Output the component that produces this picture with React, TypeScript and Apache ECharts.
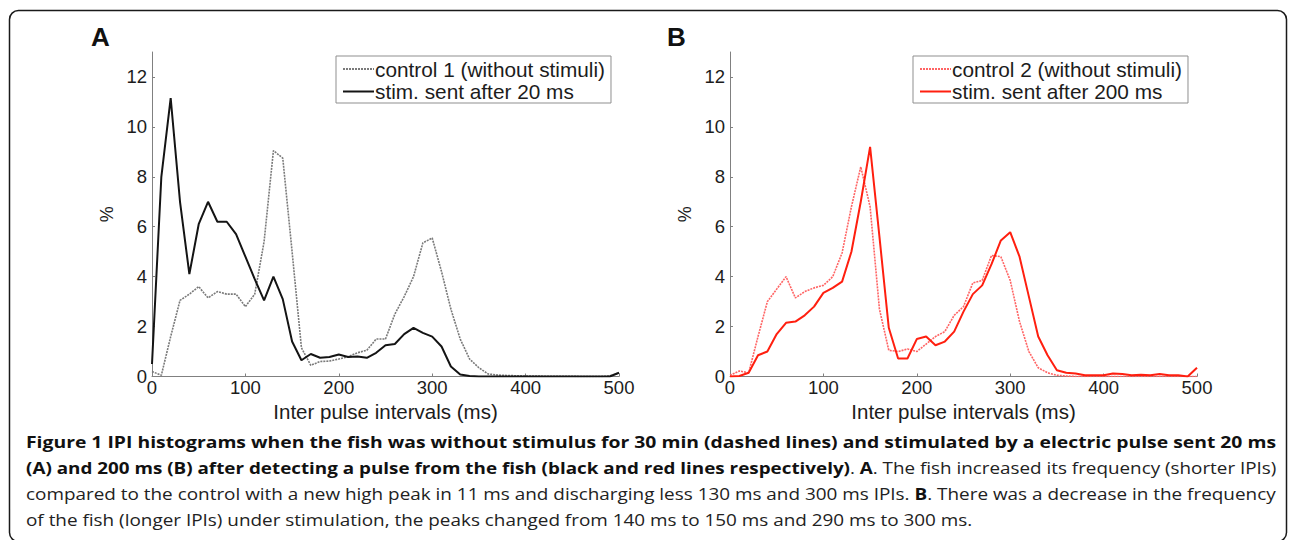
import React, { useEffect, useRef } from 'react';
import * as echarts from 'echarts';

// Inter pulse interval bins (ms)
const intervalsMs = [
  0, 10, 20, 30, 40, 50, 60, 70, 80, 90,
  100, 110, 120, 130, 140, 150, 160, 170, 180, 190,
  200, 210, 220, 230, 240, 250, 260, 270, 280, 290,
  300, 310, 320, 330, 340, 350, 360, 370, 380, 390,
  400, 410, 420, 430, 440, 450, 460, 470, 480, 490, 500,
];

// Panel A
const control1 = [
  0.2, 0.05, 1.6, 3.05, 3.3, 3.6, 3.15, 3.4, 3.3, 3.3,
  2.8, 3.3, 5.4, 9.05, 8.75, 5.0, 1.15, 0.45, 0.6, 0.62,
  0.7, 0.8, 0.95, 1.05, 1.5, 1.5, 2.5, 3.2, 4.0, 5.35,
  5.55, 4.2, 2.7, 1.5, 0.7, 0.35, 0.1, 0.06, 0.04, 0.03,
  0.02, 0.02, 0.01, 0.01, 0.01, 0.01, 0.0, 0.0, 0.0, 0.02, 0.15,
];
const stim20 = [
  0.5, 8.0, 11.15, 7.0, 4.1, 6.1, 7.0, 6.2, 6.2, 5.7,
  4.8, 3.9, 3.05, 4.0, 3.1, 1.4, 0.65, 0.9, 0.75, 0.78,
  0.88, 0.78, 0.8, 0.75, 0.95, 1.25, 1.3, 1.7, 1.95, 1.75,
  1.6, 1.2, 0.4, 0.08, 0.02, 0.0, 0.0, 0.0, 0.0, 0.0,
  0.0, 0.0, 0.0, 0.0, 0.0, 0.0, 0.0, 0.0, 0.0, 0.0, 0.15,
];

// Panel B
const control2 = [
  0.05, 0.22, 0.15, 1.6, 3.0, 3.5, 4.0, 3.15, 3.4, 3.55,
  3.65, 4.0, 4.95, 6.8, 8.4, 6.8, 2.7, 1.05, 1.0, 1.1,
  1.0, 1.3, 1.6, 1.8, 2.45, 2.8, 3.75, 3.85, 4.85, 4.8,
  3.85, 2.2, 1.0, 0.35, 0.15, 0.05, 0.02, 0.0, 0.0, 0.0,
  0.0, 0.0, 0.0, 0.0, 0.0, 0.0, 0.0, 0.0, 0.0, 0.0, 0.0,
];
const stim200 = [
  0.0, 0.02, 0.15, 0.85, 1.0, 1.7, 2.15, 2.2, 2.45, 2.8,
  3.35, 3.55, 3.8, 5.0, 7.0, 9.2, 5.6, 1.95, 0.72, 0.72,
  1.5, 1.6, 1.25, 1.4, 1.8, 2.6, 3.3, 3.65, 4.5, 5.45,
  5.78, 4.8, 3.2, 1.6, 0.85, 0.25, 0.15, 0.12, 0.05, 0.05,
  0.05, 0.12, 0.1, 0.05, 0.07, 0.05, 0.1, 0.05, 0.05, 0.0, 0.35,
];

const yTicks = [0, 2, 4, 6, 8, 10, 12];
const xTicks = [0, 100, 200, 300, 400, 500];
const legendA = ['control 1 (without stimuli)', 'stim. sent after 20 ms'];
const legendB = ['control 2 (without stimuli)', 'stim. sent after 200 ms'];
const panelLabels = ['A', 'B'];
const xAxisTitle = 'Inter pulse intervals (ms)';
const yAxisTitle = '%';

type Seg = [string, string];
const captionLines: Seg[][] = [
  [['b', 'Figure 1 IPI histograms when the fish was without stimulus for 30 min (dashed lines) and stimulated by a electric pulse sent 20 ms']],
  [
    ['b', '(A) and 200 ms (B) after detecting a pulse from the fish (black and red lines respectively)'],
    ['r', '. '],
    ['b', 'A'],
    ['r', '. The fish increased its frequency (shorter IPIs)'],
  ],
  [
    ['r', 'compared to the control with a new high peak in 11 ms and discharging less 130 ms and 300 ms IPIs. '],
    ['b', 'B'],
    ['r', '. There was a decrease in the frequency'],
  ],
  [['r', 'of the fish (longer IPIs) under stimulation, the peaks changed from 140 ms to 150 ms and 290 ms to 300 ms.']],
];
// right edge of each caption line (justified lines end at the frame margin)
const captionLineEnds = [1276, 1276, 1276, 972];

const FONT = '"Liberation Sans", Arial, Helvetica, sans-serif';
const CAP_FONT = '"Open Sans", sans-serif';
const CAP_SIZE = 16.4;
const CAP_LEFT = 26;

function measureSegs(segs: Seg[]): number {
  const c = document.createElement('canvas').getContext('2d');
  if (!c) return 1200;
  let w = 0;
  for (const [k, t] of segs) {
    c.font = `${k === 'b' ? 'bold ' : ''}${CAP_SIZE}px "Open Sans"`;
    w += c.measureText(t).width;
  }
  return w;
}

export default function App() {
  const ref = useRef<HTMLDivElement>(null);

  useEffect(() => {
    if (!ref.current) return;
    const chart = echarts.init(ref.current, undefined, { renderer: 'svg' });

    const gridTop = 52;
    const gridH = 324.5;
    const gridW = 467;
    const grids = [
      { left: 152, top: gridTop, width: gridW, height: gridH },
      { left: 730, top: gridTop, width: gridW, height: gridH },
    ];

    const axisLineColor = '#808080';
    const textColor = '#1c1c1c';

    const makeX = (gi: number) => ({
      type: 'value',
      gridIndex: gi,
      min: 0,
      max: 500,
      interval: 100,
      name: xAxisTitle,
      nameLocation: 'middle',
      nameGap: 13,
      nameTextStyle: { fontSize: 20.5, color: textColor, fontFamily: FONT },
      axisLine: { show: true, lineStyle: { color: axisLineColor, width: 1 } },
      axisTick: { show: true, inside: true, length: 3, lineStyle: { color: axisLineColor } },
      axisLabel: { show: true, margin: 1, fontSize: 18.5, color: textColor, fontFamily: FONT, customValues: xTicks },
      splitLine: { show: false },
    });
    const makeY = (gi: number) => ({
      type: 'value',
      gridIndex: gi,
      min: 0,
      max: 13,
      interval: 1,
      name: yAxisTitle,
      nameLocation: 'middle',
      nameRotate: 90,
      nameGap: 36,
      nameTextStyle: { fontSize: 18, color: textColor, fontFamily: FONT },
      axisLine: { show: true, lineStyle: { color: axisLineColor, width: 1 } },
      axisTick: { show: true, inside: true, length: 3, lineStyle: { color: axisLineColor }, customValues: yTicks },
      axisLabel: {
        show: true,
        margin: 5,
        fontSize: 18.5,
        color: textColor,
        fontFamily: FONT,
        customValues: yTicks,
        formatter: (v: number) => (yTicks.indexOf(v) >= 0 ? String(v) : ''),
      },
      splitLine: { show: false },
    });

    const pairs = (vals: number[]) => intervalsMs.map((x, i) => [x, vals[i]]);

    const mkLegend = (data: string[], left: number) => ({
      data,
      left,
      top: 56,
      orient: 'vertical',
      itemWidth: 31,
      itemHeight: 14,
      itemGap: 1.5,
      padding: [2.5, 6, 1, 6],
      borderColor: '#8f8f8f',
      borderWidth: 1,
      backgroundColor: '#ffffff',
      itemStyle: { opacity: 0 },
      textStyle: { fontSize: 20.8, color: textColor, fontFamily: FONT, padding: [0, 0, 0, -4] },
      selectedMode: false,
    });

    const captionEls: any[] = captionLines.map((segs, i) => {
      const natural = measureSegs(segs);
      const target = captionLineEnds[i] - CAP_LEFT;
      const sx = target / natural;
      const text = segs.map(([k, t]) => `{${k}|${t}}`).join('');
      return {
        type: 'text',
        x: CAP_LEFT,
        y: 442 + i * 26,
        scaleX: sx,
        style: {
          text,
          verticalAlign: 'middle',
          align: 'left',
          rich: {
            b: { fontWeight: 'bold', fontSize: CAP_SIZE, fontFamily: CAP_FONT, fill: '#111' },
            r: { fontWeight: 'normal', fontSize: CAP_SIZE, fontFamily: CAP_FONT, fill: '#222' },
          },
        },
      };
    });

    const option: any = {
      animation: false,
      backgroundColor: '#ffffff',
      grid: grids,
      xAxis: [makeX(0), makeX(1)],
      yAxis: [makeY(0), makeY(1)],
      legend: [mkLegend(legendA, 336), mkLegend(legendB, 913)],
      series: [
        {
          type: 'line', name: legendA[0], xAxisIndex: 0, yAxisIndex: 0,
          data: pairs(control1), symbol: 'none',
          lineStyle: { color: '#7a7a7a', width: 1.6, type: [2, 1] },
          itemStyle: { color: '#7a7a7a' },
        },
        {
          type: 'line', name: legendA[1], xAxisIndex: 0, yAxisIndex: 0,
          data: pairs(stim20), symbol: 'none',
          lineStyle: { color: '#141414', width: 2 },
          itemStyle: { color: '#141414' },
        },
        {
          type: 'line', name: legendB[0], xAxisIndex: 1, yAxisIndex: 1,
          data: pairs(control2), symbol: 'none',
          lineStyle: { color: '#ff6464', width: 1.6, type: [2, 1] },
          itemStyle: { color: '#ff6464' },
        },
        {
          type: 'line', name: legendB[1], xAxisIndex: 1, yAxisIndex: 1,
          data: pairs(stim200), symbol: 'none',
          lineStyle: { color: '#ff1f0f', width: 2 },
          itemStyle: { color: '#ff1f0f' },
        },
      ],
      graphic: [
        {
          type: 'rect',
          shape: { x: 9.5, y: 10.5, width: 1277, height: 531, r: 9 },
          style: { fill: 'none', stroke: '#1a1a1a', lineWidth: 1.5 },
          silent: true,
        },
        {
          type: 'text', x: 91, y: 37,
          style: { text: panelLabels[0], fontSize: 26, fontWeight: 'bold', fontFamily: FONT, fill: '#111', verticalAlign: 'middle' },
        },
        {
          type: 'text', x: 667, y: 37,
          style: { text: panelLabels[1], fontSize: 26, fontWeight: 'bold', fontFamily: FONT, fill: '#111', verticalAlign: 'middle' },
        },
        ...captionEls,
      ],
    };

    chart.setOption(option);
    return () => chart.dispose();
  }, []);

  return (
    <div
      ref={ref}
      style={{ position: 'fixed', left: 0, top: 0, width: 1290, height: 540, background: '#fff' }}
    />
  );
}
